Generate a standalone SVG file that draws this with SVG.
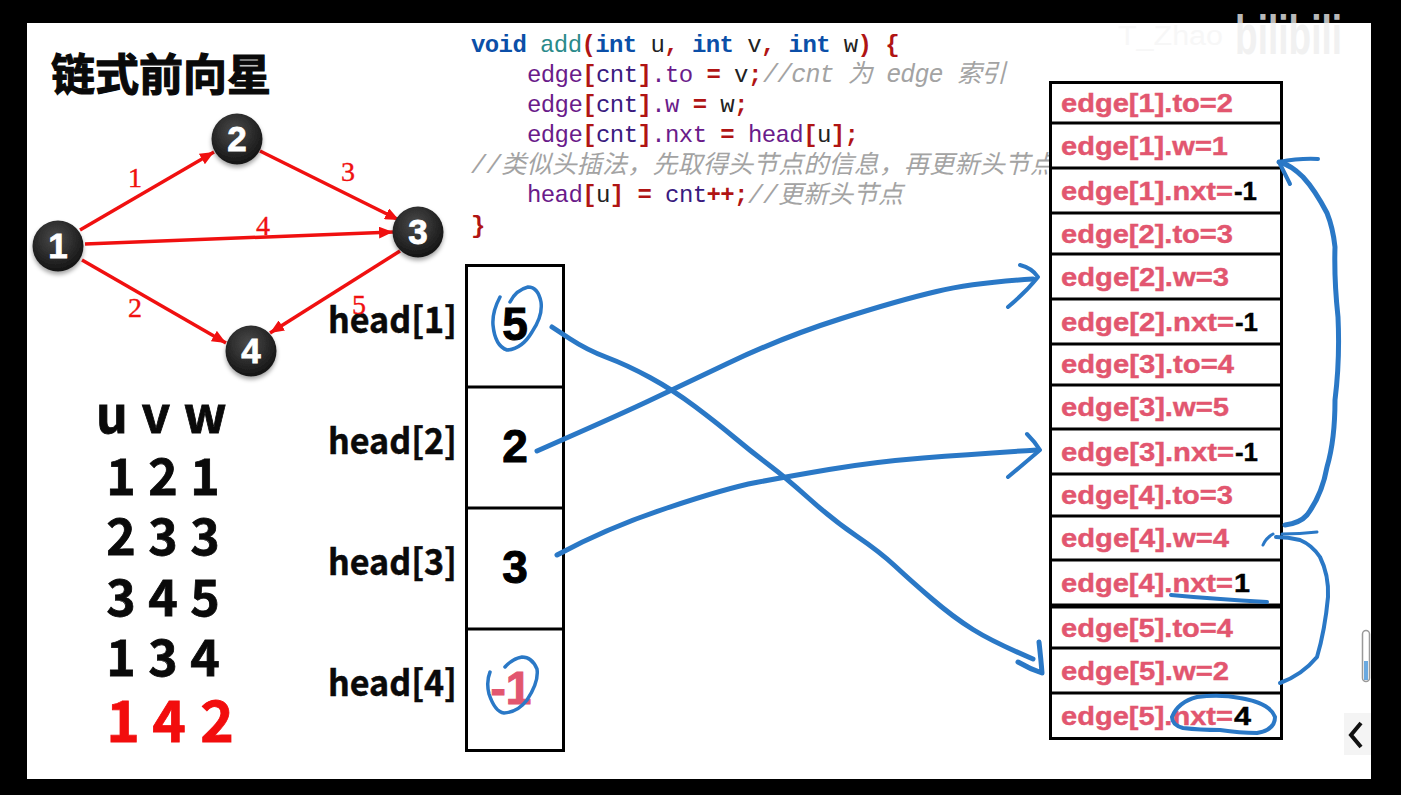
<svg xmlns="http://www.w3.org/2000/svg" width="1401" height="795" viewBox="0 0 1401 795">
<style>
.cjk{font-family:"Noto Sans CJK SC","Noto Sans",sans-serif;font-weight:700}
.uvw{font-size:50px;text-anchor:middle;fill:#0a0a0a;stroke:#0a0a0a;stroke-width:.8px}
.red{font-size:57px;text-anchor:middle;fill:#f20d0d;stroke:#f20d0d;stroke-width:.8px}
.hd{font-size:36px;fill:#0a0a0a;stroke:#0a0a0a;stroke-width:.5px}
.num{font-family:"Liberation Sans",Arial,sans-serif;font-weight:700;font-size:46px;text-anchor:middle;fill:#000;stroke:#000;stroke-width:1px}
.code{font-family:"Liberation Mono","Noto Sans CJK SC",monospace;font-size:24px;letter-spacing:-.6px;fill:#222}
.kw{fill:#0b4fa8;font-weight:700}.fn{fill:#2a8a8a}.rd{fill:#b01414;font-weight:700}.pu{fill:#6a1b8a}.cn{fill:#3a1a80}
.cm{font-family:"Liberation Mono","Noto Sans CJK SC",monospace;font-style:italic;fill:#a3a3a3;font-size:25px}
.e{font-family:"Liberation Sans",Arial,sans-serif;font-weight:700;font-size:25px;fill:#e2566f;stroke:#e2566f;stroke-width:.4px}
.k{font-family:"Liberation Sans",Arial,sans-serif;font-weight:700;font-size:25px;fill:#000;stroke:#000;stroke-width:.4px}
.box{fill:#fff;stroke:#000;stroke-width:3}
.ln{fill:none;stroke:#000;stroke-width:3}
.blue{fill:none;stroke:#2a78c6;stroke-width:5;stroke-linecap:round;stroke-linejoin:round}
.re{stroke:#f01010;stroke-width:3.500;fill:none;marker-end:url(#ah)}
.rl{font-family:"Liberation Serif",serif;font-size:28px;fill:#f01010;text-anchor:middle;stroke:#f01010;stroke-width:.4px}
.nc{fill:url(#ng);filter:url(#sh)}
.nt{font-family:"Liberation Sans",Arial,sans-serif;font-weight:700;font-size:35px;fill:#fff;text-anchor:middle;stroke:#fff;stroke-width:.8px}
</style>
<defs>
<marker id="ah" viewBox="0 0 14 12" refX="14" refY="6" markerWidth="14" markerHeight="12" markerUnits="userSpaceOnUse" orient="auto"><path d="M0 0L14 6L0 12z" fill="#f01010"/></marker>
<radialGradient id="ng" cx=".45" cy=".35" r=".7"><stop offset="0" stop-color="#4a4a4a"/><stop offset="1" stop-color="#101010"/></radialGradient>
<filter id="sh" x="-30%" y="-30%" width="160%" height="170%"><feDropShadow dx="0" dy="3" stdDeviation="2" flood-color="#000" flood-opacity=".35"/></filter>
</defs>
<rect width="1401" height="795" fill="#000"/>
<rect x="27" y="23" width="1344" height="756" fill="#fff"/>

<g id="watermark">
<text x="1118" y="45" font-family="Liberation Sans, sans-serif" font-size="27" fill="#f7f7f7" textLength="105" lengthAdjust="spacingAndGlyphs">T_Zhao</text>
<text x="1235" y="54" font-family="Liberation Sans, sans-serif" font-weight="700" font-size="56" fill="#eee" fill-opacity=".8" textLength="107" lengthAdjust="spacingAndGlyphs">bilibili</text>
</g>

<text id="title" class="cjk" x="51" y="91" font-size="44" fill="#0a0a0a" stroke="#0a0a0a" stroke-width="1.200">链式前向星</text>

<g id="code">
<text class="code" x="471" y="52"><tspan class="kw">void</tspan> <tspan class="fn">add</tspan><tspan class="rd">(</tspan><tspan class="kw">int</tspan> u<tspan class="rd">,</tspan> <tspan class="kw">int</tspan> v<tspan class="rd">,</tspan> <tspan class="kw">int</tspan> w<tspan class="rd">)</tspan> <tspan class="rd">{</tspan></text>
<text class="code" x="527" y="82"><tspan class="pu">edge</tspan><tspan class="rd">[</tspan><tspan class="cn">cnt</tspan><tspan class="rd">]</tspan><tspan class="pu">.to</tspan> <tspan class="rd">=</tspan> v<tspan class="rd">;</tspan></text>
<text class="cm" x="763" y="82" textLength="243">//cnt 为 edge 索引</text>
<text class="code" x="527" y="112"><tspan class="pu">edge</tspan><tspan class="rd">[</tspan><tspan class="cn">cnt</tspan><tspan class="rd">]</tspan><tspan class="pu">.w</tspan> <tspan class="rd">=</tspan> w<tspan class="rd">;</tspan></text>
<text class="code" x="527" y="142"><tspan class="pu">edge</tspan><tspan class="rd">[</tspan><tspan class="cn">cnt</tspan><tspan class="rd">]</tspan><tspan class="pu">.nxt</tspan> <tspan class="rd">=</tspan> <tspan class="pu">head</tspan><tspan class="rd">[</tspan>u<tspan class="rd">];</tspan></text>
<text class="cm" x="471" y="173" textLength="584">//类似头插法，先取得头节点的信息，再更新头节点</text>
<text class="code" x="527" y="202"><tspan class="pu">head</tspan><tspan class="rd">[</tspan>u<tspan class="rd">]</tspan> <tspan class="rd">=</tspan> <tspan class="cn">cnt</tspan><tspan class="rd">++;</tspan></text>
<text class="cm" x="748" y="203" textLength="155">//更新头节点</text>
<text class="code" x="471" y="233"><tspan class="rd">}</tspan></text>
</g>

<g id="connectors">
<line class="re" x1="80" y1="230" x2="214" y2="152"/>
<line class="re" x1="260" y1="151" x2="399" y2="220"/>
<line class="re" x1="85" y1="244" x2="393" y2="232"/>
<line class="re" x1="82" y1="260" x2="226" y2="343"/>
<line class="re" x1="400" y1="251" x2="270" y2="333"/>
</g>
<g id="edge-labels">
<text class="rl" x="135" y="187">1</text>
<text class="rl" x="348" y="181">3</text>
<text class="rl" x="263" y="235">4</text>
<text class="rl" x="135" y="317">2</text>
</g>
<g id="node-1"><circle class="nc" cx="58" cy="246" r="25.5"/><text class="nt" x="58" y="258">1</text></g>
<g id="node-2"><circle class="nc" cx="237" cy="139" r="25.5"/><text class="nt" x="237" y="151">2</text></g>
<g id="node-3"><circle class="nc" cx="418" cy="232" r="25.5"/><text class="nt" x="418" y="244">3</text></g>
<g id="node-4"><circle class="nc" cx="251" cy="351" r="25.5"/><text class="nt" x="251" y="363">4</text></g>

<g id="uvw-table" class="cjk">
<text class="uvw" x="112" y="433">u</text><text class="uvw" x="156" y="433">v</text><text class="uvw" x="205" y="433">w</text>
<text class="uvw" x="121" y="495">1</text><text class="uvw" x="163" y="495">2</text><text class="uvw" x="205" y="495">1</text>
<text class="uvw" x="121" y="555">2</text><text class="uvw" x="163" y="555">3</text><text class="uvw" x="205" y="555">3</text>
<text class="uvw" x="121" y="616">3</text><text class="uvw" x="163" y="616">4</text><text class="uvw" x="205" y="616">5</text>
<text class="uvw" x="121" y="676">1</text><text class="uvw" x="163" y="676">3</text><text class="uvw" x="205" y="676">4</text>
<text class="red" x="123" y="742">1</text><text class="red" x="169" y="742">4</text><text class="red" x="217" y="742">2</text>
</g>

<g id="head-array">
<g class="cjk">
<text class="hd" x="328" y="333" textLength="129" lengthAdjust="spacingAndGlyphs">head[1]</text>
<text class="hd" x="328" y="454" textLength="129" lengthAdjust="spacingAndGlyphs">head[2]</text>
<text class="hd" x="328" y="575" textLength="129" lengthAdjust="spacingAndGlyphs">head[3]</text>
<text class="hd" x="328" y="696" textLength="129" lengthAdjust="spacingAndGlyphs">head[4]</text>
</g>
<rect class="box" x="466.500" y="265.500" width="97" height="485"/>
<path class="ln" d="M466 387H564M466 508H564M466 629H564"/>
<text class="num" x="515" y="340">5</text>
<text class="num" x="515" y="462">2</text>
<text class="num" x="515" y="583">3</text>
<text class="num" x="511" y="704" style="fill:#e2566f;stroke:#e2566f">-1</text>
</g>
<text class="rl" x="359" y="314">5</text>

<g id="edge-array">
<rect class="box" x="1050.500" y="82.500" width="231" height="656"/>
<path class="ln" d="M1050 123H1282M1050 168H1282M1050 213H1282M1050 254H1282M1050 299H1282M1050 344H1282M1050 385H1282M1050 429H1282M1050 474H1282M1050 516H1282M1050 560H1282M1050 606H1282M1050 648H1282M1050 693H1282"/>
<path d="M1050 606H1282" stroke="#000" stroke-width="5"/>
<text class="e" x="1061" y="112" textLength="172" lengthAdjust="spacingAndGlyphs">edge[1].to=2</text>
<text class="e" x="1061" y="155" textLength="167" lengthAdjust="spacingAndGlyphs">edge[1].w=1</text>
<text class="e" x="1061" y="200" textLength="172" lengthAdjust="spacingAndGlyphs">edge[1].nxt=</text><text class="k" x="1234" y="200" textLength="23" lengthAdjust="spacingAndGlyphs">-1</text>
<text class="e" x="1061" y="243" textLength="172" lengthAdjust="spacingAndGlyphs">edge[2].to=3</text>
<text class="e" x="1061" y="286" textLength="168" lengthAdjust="spacingAndGlyphs">edge[2].w=3</text>
<text class="e" x="1061" y="331" textLength="173" lengthAdjust="spacingAndGlyphs">edge[2].nxt=</text><text class="k" x="1235" y="331" textLength="23" lengthAdjust="spacingAndGlyphs">-1</text>
<text class="e" x="1061" y="373" textLength="173" lengthAdjust="spacingAndGlyphs">edge[3].to=4</text>
<text class="e" x="1061" y="416" textLength="168" lengthAdjust="spacingAndGlyphs">edge[3].w=5</text>
<text class="e" x="1061" y="461" textLength="173" lengthAdjust="spacingAndGlyphs">edge[3].nxt=</text><text class="k" x="1235" y="461" textLength="23" lengthAdjust="spacingAndGlyphs">-1</text>
<text class="e" x="1061" y="504" textLength="172" lengthAdjust="spacingAndGlyphs">edge[4].to=3</text>
<text class="e" x="1061" y="547" textLength="168" lengthAdjust="spacingAndGlyphs">edge[4].w=4</text>
<text class="e" x="1061" y="592" textLength="172" lengthAdjust="spacingAndGlyphs">edge[4].nxt=</text><text class="k" x="1234" y="592" textLength="16" lengthAdjust="spacingAndGlyphs">1</text>
<text class="e" x="1061" y="637" textLength="172" lengthAdjust="spacingAndGlyphs">edge[5].to=4</text>
<text class="e" x="1061" y="680" textLength="168" lengthAdjust="spacingAndGlyphs">edge[5].w=2</text>
<text class="e" x="1061" y="725" textLength="172" lengthAdjust="spacingAndGlyphs">edge[5].nxt=</text><text class="k" x="1234" y="725" textLength="17" lengthAdjust="spacingAndGlyphs">4</text>
</g>

<g id="annotations" class="blue">
<path d="M500 297Q492 312 493 325Q495 346 507 350Q522 349 532 332Q543 316 541 302Q538 287 528 287Q516 290 510 302" stroke-width="3.500"/>
<path d="M490 672Q486 682 489 694Q495 712 504 713Q518 712 527 700Q539 682 537 669Q532 657 522 657Q512 659 505 667" stroke-width="3.500"/>
<path d="M552 327L569.500 338.500Q587 350 607 357.500Q627 365 650 377.500Q673 390 695 406.500Q717 423 735 438Q753 453 769 465Q785 477 809 498.500Q833 520 856.500 536Q880 552 895 566Q910 580 931.500 598.500Q953 617 973 629.500Q993 642 1033 659"/>
<path d="M1039 642Q1041 660 1042 673Q1030 669 1018 662"/>
<path d="M537 451L580 432Q623 413 647.500 401.500Q672 390 727.500 363.500Q783 337 841.500 318.500Q900 300 936.500 291.500Q973 283 1033 279"/>
<path d="M1020 265Q1032 268 1038 277Q1026 292 1008 307" stroke-width="4"/>
<path d="M557 555Q607 528 667 508Q727 488 756 482.500Q785 477 829 469.500Q873 462 923 458Q973 454 1037 450"/>
<path d="M1027 434Q1035 442 1040 450Q1026 462 1008 477" stroke-width="4"/>
<path d="M1285 525Q1300 523 1307 515Q1322 495 1327 467Q1335 440 1335 400Q1340 360 1338 317Q1334 280 1335 247Q1333 228 1327 213Q1315 190 1303 177Q1291 165 1279 162"/>
<path d="M1318 159Q1300 158 1279 162Q1284 172 1290 184" stroke-width="4"/>
<path d="M1280 683Q1302 675 1317 657Q1325 630 1328 597Q1329 575 1320 557Q1312 545 1300 540Q1288 537 1276 537" stroke-width="4"/>
<path d="M1282 534Q1300 534 1317 532" stroke-width="3"/>
<path d="M1263 545Q1266 538 1273 534" stroke-width="3"/>
<path d="M1171 595Q1215 599 1267 602" stroke-width="4"/>
<path d="M1172 717Q1178 702 1197 697Q1220 694 1240 698Q1270 703 1275 717Q1275 730 1257 733Q1240 733 1220 730Q1200 730 1183 728Q1172 725 1172 717" stroke-width="4"/>
</g>

<g id="viewer-controls">
<rect x="1344" y="713" width="27" height="42" fill="#f4f4f4"/>
<path d="M1361 723L1351 735L1361 747" fill="none" stroke="#111" stroke-width="4"/>
<rect x="1362.500" y="630.500" width="7" height="51" rx="3.500" fill="#fff" stroke="#999" stroke-width="1.500"/>
<rect x="1364" y="661" width="4" height="19" fill="#6aa9e0"/>
</g>
</svg>
